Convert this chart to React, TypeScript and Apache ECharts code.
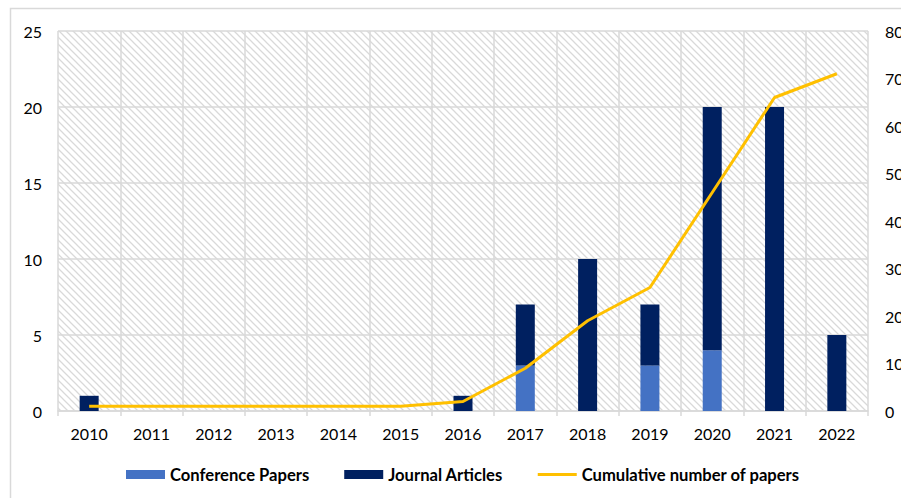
import React, { useEffect, useRef } from "react";
import * as echarts from "echarts";

const years = ["2010", "2011", "2012", "2013", "2014", "2015", "2016", "2017", "2018", "2019", "2020", "2021", "2022"];
const conferencePapers = [0, 0, 0, 0, 0, 0, 0, 3, 0, 3, 4, 0, 0];
const journalArticles = [1, 0, 0, 0, 0, 0, 1, 4, 10, 4, 16, 20, 5];
const cumulativePapers = [1, 1, 1, 1, 1, 1, 2, 9, 19, 26, 46, 66, 71];
const leftAxisRange = [0, 25, 5];
const rightAxisRange = [0, 80, 10];

const FONT = "Lato";
const GRID_COLOR = "#D9D9D9";

const hatchSvg =
  "<svg xmlns='http://www.w3.org/2000/svg' width='7' height='7'>" +
  "<path d='M-1,-1 L8,8 M-1,6 L1,8 M6,-1 L8,1' stroke='#d9d9d9' stroke-width='1.3' fill='none'/></svg>";
const hatchUrl = "data:image/svg+xml;charset=utf-8," + encodeURIComponent(hatchSvg);

const lineIcon = "path://M0,0 L39,0 L39,0 Z M0,3 L39,3 L39,6 L0,6 Z M0,9 L39,9 L39,9 Z";

export default function App() {
  const ref = useRef<HTMLDivElement>(null);
  useEffect(() => {
    if (!ref.current) return;
    const chart = echarts.init(ref.current, null, { renderer: "svg" });
    chart.setOption({
      animation: false,
      backgroundColor: "#ffffff",
      textStyle: { fontFamily: FONT },
      graphic: [
        {
          type: "rect",
          shape: { x: 10.5, y: 8.5, width: 1000, height: 1000 },
          style: { fill: "none", stroke: GRID_COLOR, lineWidth: 1.5 },
          silent: true,
          z: -10,
        },
      ],
      grid: {
        left: 58,
        right: 33,
        top: 31,
        bottom: 87,
        outerBoundsMode: "none",
        containLabel: false,
        show: true,
        borderWidth: 0,
        backgroundColor: { image: hatchUrl, repeat: "repeat", imageWidth: 7, imageHeight: 7 } as any,
      } as any,
      legend: {
        left: 121,
        top: 461,
        itemWidth: 39,
        itemHeight: 9,
        itemGap: 35,
        textStyle: { fontFamily: FONT, fontSize: 16.6, fontWeight: "bold", color: "#000" },
        data: [
          { name: "Conference Papers", icon: "rect" },
          { name: "Journal Articles", icon: "rect" },
          { name: "Cumulative number of papers", icon: lineIcon, itemStyle: { color: "#FFC000", borderWidth: 0 } },
        ],
      },
      xAxis: {
        type: "category",
        data: years,
        boundaryGap: true,
        axisLine: { lineStyle: { color: GRID_COLOR, width: 1.5 } },
        axisTick: { show: true, length: 5, lineStyle: { color: GRID_COLOR, width: 1.5 } },
        splitLine: { show: true, lineStyle: { color: GRID_COLOR, width: 1.5 } },
        axisLabel: { fontFamily: FONT, fontSize: 16, color: "#000", margin: 14 },
      },
      yAxis: [
        {
          type: "value",
          min: leftAxisRange[0],
          max: leftAxisRange[1],
          interval: leftAxisRange[2],
          axisLine: { show: false },
          axisTick: { show: false },
          splitLine: { show: true, lineStyle: { color: GRID_COLOR, width: 1.5 } },
          axisLabel: { fontFamily: FONT, fontSize: 16, color: "#000", margin: 16 },
        },
        {
          type: "value",
          min: rightAxisRange[0],
          max: rightAxisRange[1],
          interval: rightAxisRange[2],
          position: "right",
          axisLine: { show: false },
          axisTick: { show: false },
          splitLine: { show: false },
          axisLabel: { fontFamily: FONT, fontSize: 16, color: "#000", margin: 17 },
        },
      ],
      series: [
        {
          name: "Conference Papers",
          type: "bar",
          stack: "papers",
          barWidth: 19,
          data: conferencePapers,
          itemStyle: { color: "#4472C4" },
          z: 2,
        },
        {
          name: "Journal Articles",
          type: "bar",
          stack: "papers",
          barWidth: 19,
          data: journalArticles,
          itemStyle: { color: "#002060" },
          z: 2,
        },
        {
          name: "Cumulative number of papers",
          type: "line",
          yAxisIndex: 1,
          data: cumulativePapers,
          symbol: "none",
          smooth: false,
          lineStyle: { color: "#FFC000", width: 3 },
          itemStyle: { color: "#FFC000" },
          z: 5,
        },
      ],
    });
    return () => chart.dispose();
  }, []);
  return (
    <div
      ref={ref}
      style={{ position: "fixed", left: 0, top: 0, width: 901, height: 498, overflow: "hidden" }}
    />
  );
}
